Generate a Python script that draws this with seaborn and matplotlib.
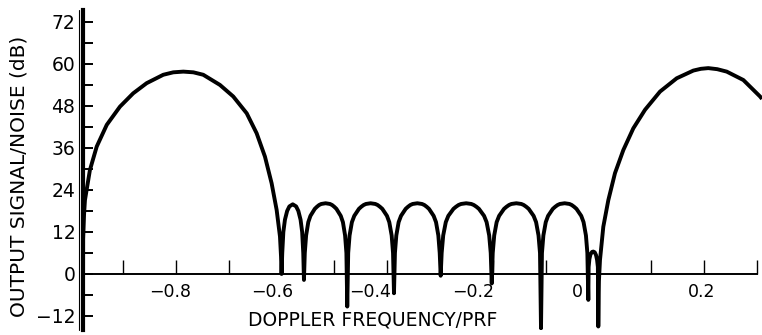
import numpy as np
import pandas as pd
import matplotlib
matplotlib.use("Agg")
import matplotlib.pyplot as plt
import matplotlib.transforms as mtransforms
import seaborn as sns

# ---- data ----
left_lobe_x = [-0.9760, -0.9758, -0.9740, -0.9723, -0.9629, -0.9500, -0.9310, -0.9060, -0.8810,
               -0.8555, -0.8240, -0.8050, -0.7860, -0.7670, -0.7483, -0.7167, -0.6915, -0.6660,
               -0.6472, -0.6314, -0.6188, -0.6093, -0.6030, -0.6010, -0.6000]
left_lobe_y = [-16.0, 10.0, 17.0, 21.1, 29.7, 36.4, 42.6, 47.8, 51.6,
               54.5, 56.9, 57.6, 57.8, 57.6, 56.9, 54.0, 50.7, 45.9,
               40.2, 33.5, 25.9, 18.3, 10.7, 5.0, 0.0]

sidelobes_x = [
    # lobe 1
    -0.5987, -0.5966, -0.5936, -0.5894, -0.5852, -0.5788, -0.5724, -0.5682, -0.5640, -0.5610, -0.5589, -0.5576,
    # lobe 2
    -0.5560, -0.5535, -0.5494, -0.5453, -0.5412, -0.5371, -0.5330, -0.5289, -0.5248, -0.5166,
    -0.5084, -0.5043, -0.5002, -0.4961, -0.4920, -0.4879, -0.4838, -0.4797, -0.4772, -0.4756,
    # lobe 3
    -0.4738, -0.4712, -0.4668, -0.4623, -0.4579, -0.4535, -0.4491, -0.4446, -0.4402, -0.4314,
    -0.4225, -0.4181, -0.4137, -0.4092, -0.4048, -0.4004, -0.3960, -0.3915, -0.3889, -0.3871,
    # lobe 4
    -0.3853, -0.3827, -0.3783, -0.3738, -0.3694, -0.3650, -0.3606, -0.3562, -0.3517, -0.3429,
    -0.3341, -0.3296, -0.3252, -0.3208, -0.3164, -0.3120, -0.3075, -0.3031, -0.3005, -0.2987,
    # lobe 5
    -0.2968, -0.2939, -0.2890, -0.2842, -0.2794, -0.2745, -0.2697, -0.2649, -0.2600, -0.2504,
    -0.2407, -0.2359, -0.2310, -0.2262, -0.2213, -0.2165, -0.2117, -0.2068, -0.2039, -0.2020,
    # lobe 6
    -0.2001, -0.1973, -0.1927, -0.1880, -0.1833, -0.1787, -0.1740, -0.1693, -0.1647, -0.1554,
    -0.1460, -0.1414, -0.1367, -0.1320, -0.1274, -0.1227, -0.1180, -0.1134, -0.1106, -0.1087,
    # lobe 7
    -0.1069, -0.1042, -0.0997, -0.0953, -0.0908, -0.0863, -0.0818, -0.0773, -0.0729, -0.0639,
    -0.0549, -0.0505, -0.0460, -0.0415, -0.0370, -0.0325, -0.0281, -0.0236, -0.0209, -0.0191,
    # small lobe
    -0.0185, -0.0170, -0.0150, -0.0120, -0.0097, -0.0070, -0.0045, -0.0025, -0.0010, -0.0002,
]
sidelobes_y = [
    6.0, 12.0, 15.5, 18.0, 19.3, 19.9, 19.3, 18.0, 15.5, 12.0, 6.0, -1.7,
    6.0, 11.0, 14.8, 16.6, 17.6, 18.6, 19.2, 19.7, 20.0, 20.2,
    20.0, 19.7, 19.2, 18.6, 17.6, 16.6, 14.8, 11.0, 6.0, -9.3,
    6.0, 11.0, 14.8, 16.6, 17.6, 18.6, 19.2, 19.7, 20.0, 20.2,
    20.0, 19.7, 19.2, 18.6, 17.6, 16.6, 14.8, 11.0, 6.0, -5.5,
    6.0, 11.0, 14.8, 16.6, 17.6, 18.6, 19.2, 19.7, 20.0, 20.2,
    20.0, 19.7, 19.2, 18.6, 17.6, 16.6, 14.8, 11.0, 6.0, -0.5,
    6.0, 11.0, 14.8, 16.6, 17.6, 18.6, 19.2, 19.7, 20.0, 20.2,
    20.0, 19.7, 19.2, 18.6, 17.6, 16.6, 14.8, 11.0, 6.0, -2.7,
    6.0, 11.0, 14.8, 16.6, 17.6, 18.6, 19.2, 19.7, 20.0, 20.2,
    20.0, 19.7, 19.2, 18.6, 17.6, 16.6, 14.8, 11.0, 6.0, -15.5,
    6.0, 11.0, 14.8, 16.6, 17.6, 18.6, 19.2, 19.7, 20.0, 20.2,
    20.0, 19.7, 19.2, 18.6, 17.6, 16.6, 14.8, 11.0, 6.0, -7.4,
    2.0, 4.3, 5.6, 6.3, 6.4, 6.2, 5.4, 4.0, 2.0, -15.0,
]

right_lobe_x = [0.0010, 0.0030, 0.0093, 0.0188, 0.0314, 0.0472, 0.0661, 0.0883, 0.1167,
                0.1483, 0.1798, 0.1940, 0.2081, 0.2250, 0.2430, 0.2745, 0.3061, 0.3098]
right_lobe_y = [-2.0, 4.0, 13.5, 21.1, 28.8, 35.4, 41.6, 46.9, 52.1,
                55.9, 58.1, 58.6, 58.8, 58.5, 57.8, 55.4, 50.7, 50.0]

x_major_ticks = [-0.8, -0.6, -0.4, -0.2, 0.0, 0.2]
x_tick_labels = ["\u22120.8", "\u22120.6", "\u22120.4", "\u22120.2", "0", "0.2"]
x_minor_ticks = [-0.9, -0.7, -0.5, -0.3, -0.1, 0.1, 0.3]
y_major_ticks = [-12, 0, 12, 24, 36, 48, 60, 72]
y_tick_labels = ["\u221212", "0", "12", "24", "36", "48", "60", "72"]
y_minor_ticks = [-6, 6, 18, 30, 42, 54, 66]

x_label = "DOPPLER FREQUENCY/PRF"
y_label = "OUTPUT SIGNAL/NOISE (dB)"

df = pd.DataFrame({
    "freq": left_lobe_x + sidelobes_x + right_lobe_x,
    "snr": left_lobe_y + sidelobes_y + right_lobe_y,
})

# ---- drawing ----
sns.set_style("white")
plt.rcParams["font.family"] = ["DejaVu Sans"]
plt.rcParams["text.color"] = "black"
plt.rcParams["xtick.color"] = "black"
plt.rcParams["ytick.color"] = "black"
plt.rcParams["axes.labelcolor"] = "black"

fig = plt.figure(figsize=(7.62, 3.35), dpi=100)
ax = fig.add_axes([83 / 762, 5 / 335, 679 / 762, 320 / 335])

sns.lineplot(data=df, x="freq", y="snr", sort=False, estimator=None,
             color="black", linewidth=2.8, ax=ax)
for ln in ax.lines:
    ln.set_solid_joinstyle("round")
    ln.set_solid_capstyle("butt")

ax.set_xlim(-0.976, 0.3098)
ax.set_ylim(-16, 75.4)

for s in ["top", "right"]:
    ax.spines[s].set_visible(False)
ax.spines["left"].set_linewidth(3.0)
ax.spines["left"].set_color("black")
ax.spines["bottom"].set_position(("data", 0))
ax.spines["bottom"].set_linewidth(1.4)
ax.spines["bottom"].set_color("black")
ax.spines["bottom"].set_bounds(-0.976, 0.3)

# thin companion line beside the thick vertical axis
vl = ax.axvline(-0.976, color="black", linewidth=0.8)
vl.set_transform(vl.get_transform() + mtransforms.ScaledTranslation(-4 / 100, 0, fig.dpi_scale_trans))
vl.set_clip_on(False)

ax.set_xticks(x_major_ticks)
ax.set_xticklabels(x_tick_labels)
ax.set_xticks(x_minor_ticks, minor=True)
ax.set_yticks(y_major_ticks)
ax.set_yticklabels(y_tick_labels)
ax.set_yticks(y_minor_ticks, minor=True)

ax.tick_params(axis="x", which="both", direction="in", length=10, width=1.0,
               color="black", labelcolor="black", labelsize=12.5, pad=6.5, bottom=True)
ax.tick_params(axis="y", which="both", direction="in", length=7.2, width=1.4,
               color="black", labelcolor="black", labelsize=13.5, pad=5.5, left=True)

# small horizontal shifts of the x tick labels as in the reference
shifts = [-6, -9, -17, -20, -21, -2]
for lab, dx in zip(ax.get_xticklabels(), shifts):
    lab.set_transform(lab.get_transform() + mtransforms.ScaledTranslation(dx / 100, 0, fig.dpi_scale_trans))

ax.grid(False)
ax.set_xlabel("")
ax.set_ylabel("")
fig.text(373 / 762, (335 - 320) / 335, x_label, ha="center", va="center",
         fontsize=13.5, color="black")
fig.text(19 / 762, (335 - 176) / 335, y_label, ha="center", va="center",
         rotation=90, fontsize=14.5, color="black")

fig.savefig("out.png", dpi=100, facecolor="white")
